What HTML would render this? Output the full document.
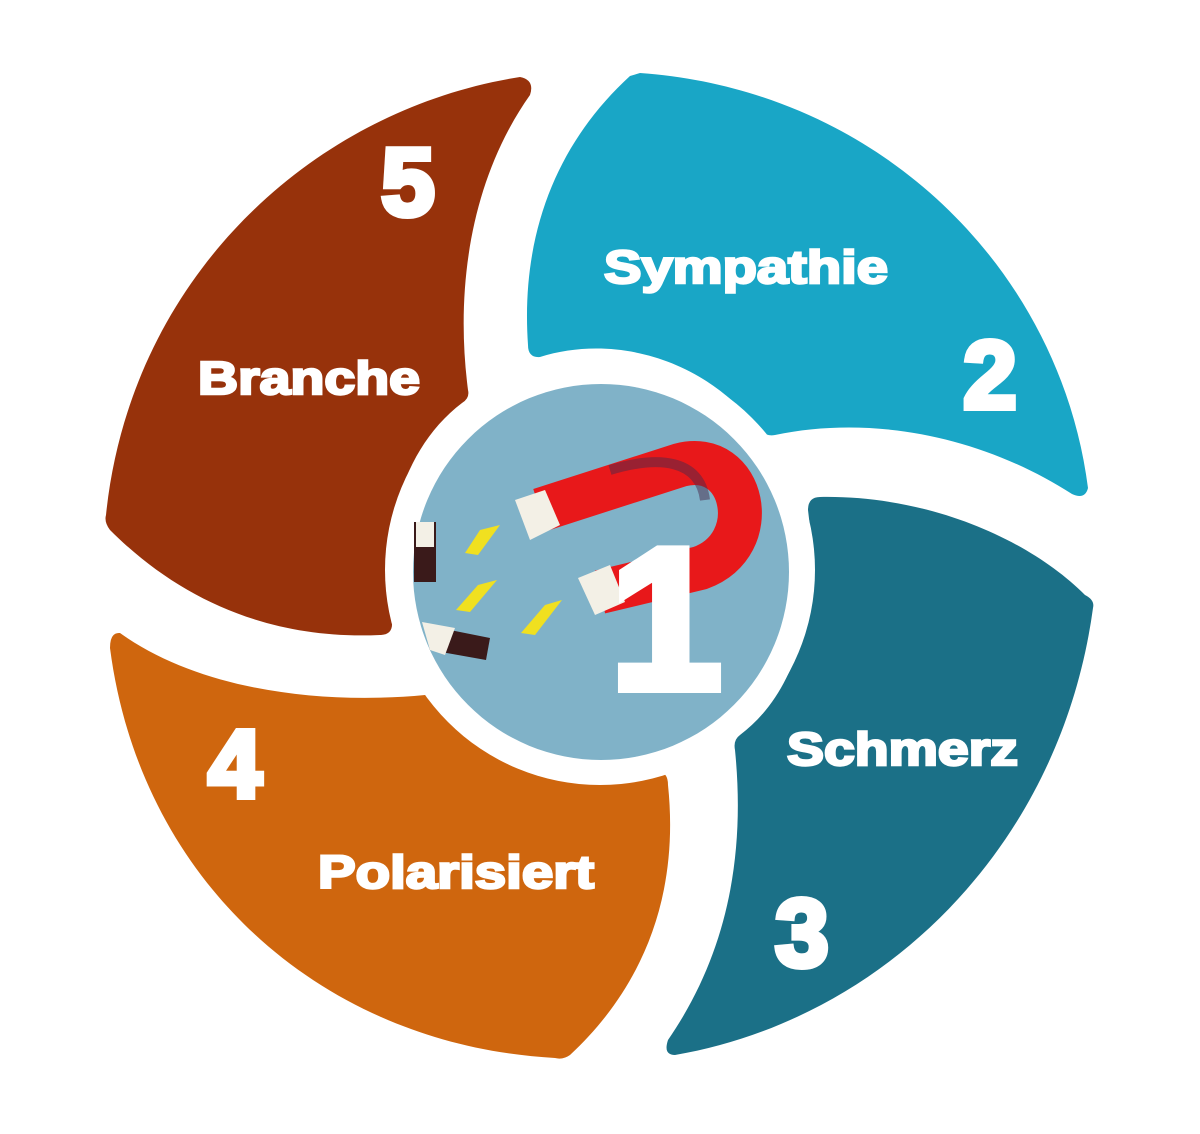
<!DOCTYPE html>
<html><head><meta charset="utf-8"><style>
html,body{margin:0;padding:0;background:#fff;}
svg{display:block}
text{font-family:"Liberation Sans",sans-serif;font-weight:bold;fill:#fff;stroke:#fff}
</style></head><body>
<svg width="1200" height="1134" viewBox="0 0 1200 1134">
<path fill="#19A6C6" d="M640,73 C880,90 1060,270 1088,488 Q1085,500 1072,494 C980,435 870,415 775,435 Q765,437 758,428 C700,355 610,335 540,357 Q528,358 528,345 C520,230 560,140 630,76 Z"/>
<path fill="#1B7087" d="M1093,608 C1060,850 880,1020 675,1055 Q663,1055 668,1040 C730,950 745,850 735,750 Q733,740 740,735 C800,690 820,600 808,510 Q808,497 820,497 C930,495 1030,540 1085,595 Q1095,600 1093,608 Z"/>
<path fill="#CF660E" d="M120,633 C200,690 320,705 425,695 Q432,695 438,702 C500,770 580,785 655,772 Q668,770 668,785 C680,900 640,990 570,1055 Q563,1060 555,1058 C320,1045 140,880 110,648 Q110,632 120,633 Z"/>
<path fill="#97320B" d="M520,77 Q535,80 530,95 C470,180 455,290 468,390 Q470,398 462,403 C400,450 378,540 392,622 Q393,635 380,635 C270,640 180,600 110,530 Q104,522 106,515 C130,280 310,110 520,77 Z"/>
<circle cx="600" cy="570" r="215" fill="#fff"/>
<circle cx="601" cy="572" r="188" fill="#80B2C8"/>
<path d="M540,510 L680,465 C745,448 765,545 700,568 L600,592" fill="none" stroke="#E8181A" stroke-width="44"/>
<path d="M610,470 C660,455 700,460 705,500" fill="none" stroke="#4a2a4a" stroke-width="10" opacity="0.5"/>
<polygon points="515,500 545,490 560,525 530,540" fill="#f3f0e6"/>
<polygon points="578,578 610,565 625,602 595,615" fill="#f3f0e6"/>
<polygon points="480,530 500,525 478,555 465,553" fill="#f0e020"/>
<polygon points="478,585 497,580 470,612 456,610" fill="#f0e020"/>
<polygon points="545,605 562,600 535,635 521,633" fill="#f0e020"/>
<rect x="414" y="522" width="22" height="60" fill="#3a1a1a"/>
<rect x="416" y="522" width="18" height="25" fill="#f3f0e6"/>
<polygon points="425,625 490,638 486,660 430,650" fill="#3a1a1a"/>
<polygon points="422,622 455,628 445,655 430,650" fill="#f3f0e6"/>
<text x="666" y="688" font-size="200" text-anchor="middle" stroke-width="10">1</text>
<g stroke-width="2.5">
<text x="604" y="283" font-size="46" textLength="284" lengthAdjust="spacingAndGlyphs">Sympathie</text>
<text x="198" y="394" font-size="46" textLength="222" lengthAdjust="spacingAndGlyphs">Branche</text>
<text x="787" y="765" font-size="46" textLength="231" lengthAdjust="spacingAndGlyphs">Schmerz</text>
<text x="318" y="888" font-size="46" textLength="276" lengthAdjust="spacingAndGlyphs">Polarisiert</text>
</g>
<g stroke-width="6">
<text x="990" y="408" font-size="96" text-anchor="middle">2</text>
<text x="408" y="215" font-size="96" text-anchor="middle">5</text>
<text x="802" y="966" font-size="96" text-anchor="middle">3</text>
<text x="235" y="797" font-size="96" text-anchor="middle">4</text>
</g>
</svg>
</body></html>
